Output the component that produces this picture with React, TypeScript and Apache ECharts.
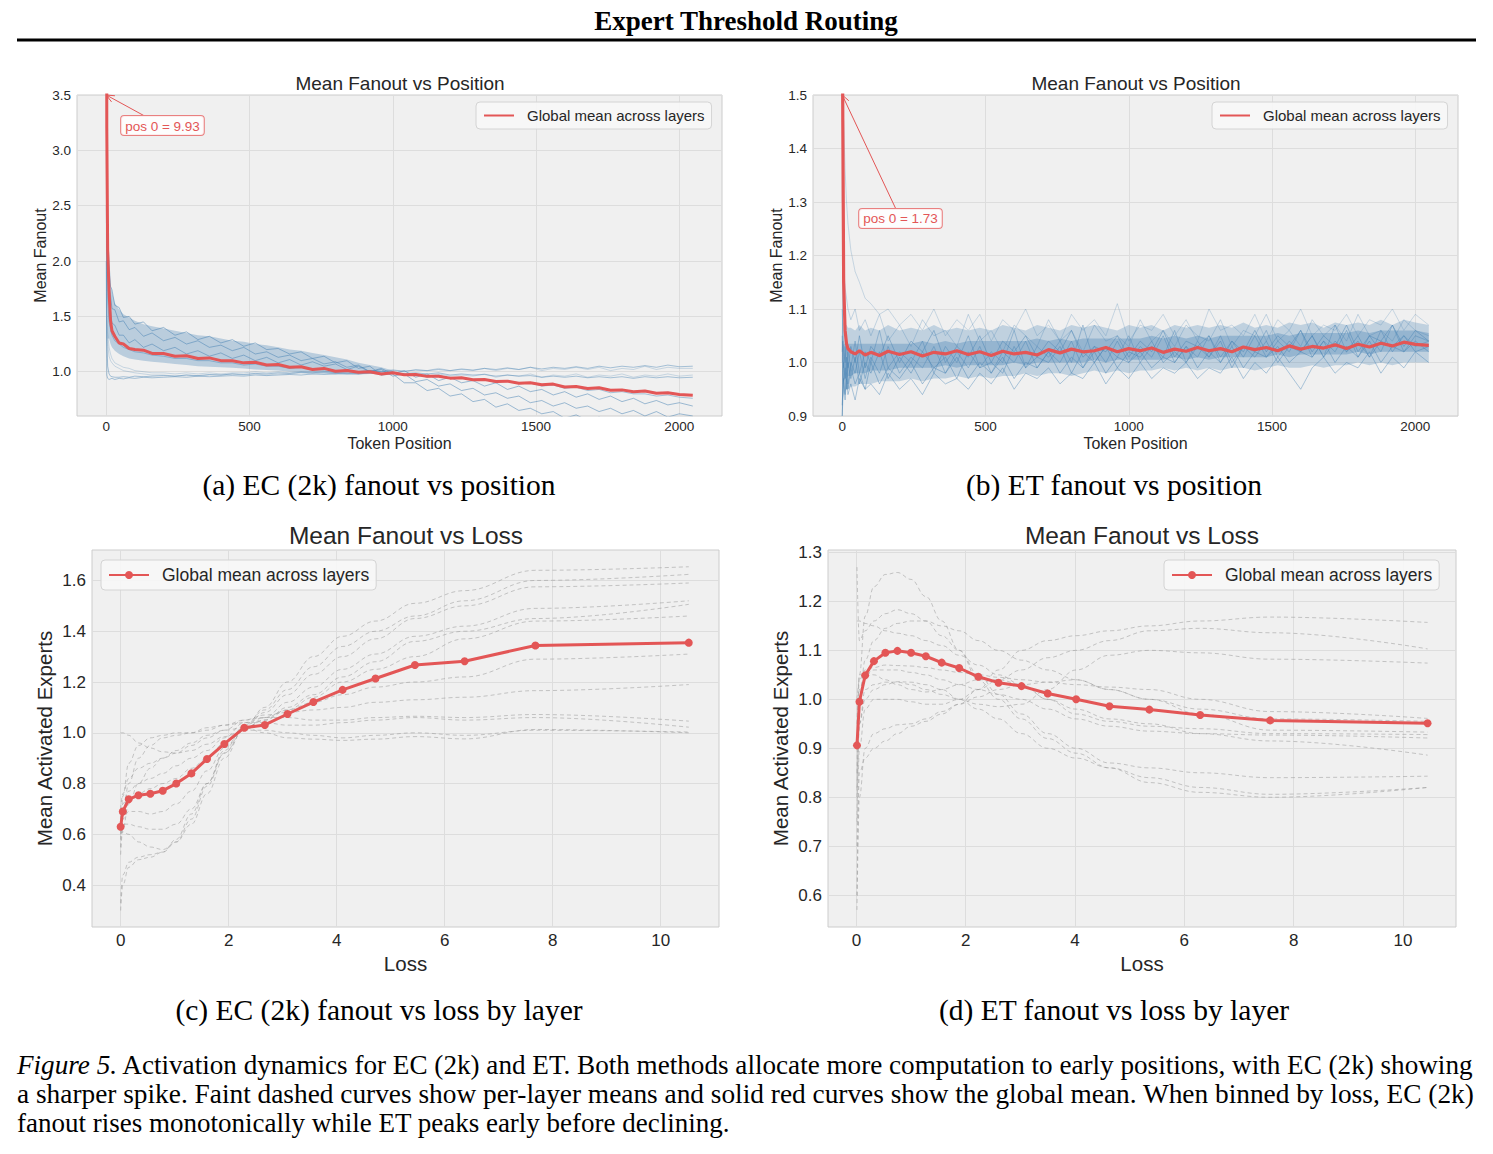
import React, { useEffect, useRef } from "react";
import * as echarts from "echarts";

// ---------------- DATA ----------------
// Token positions at which per-layer / global fanout was read off the figure
const POSITIONS = [0, 2, 5, 10, 15, 20, 30, 45, 60, 80, 100, 130, 160, 200, 240, 280, 320, 360, 400, 440, 480, 520, 560, 600, 640, 680, 720, 760, 800, 840, 880, 920, 960, 1000, 1040, 1080, 1120, 1160, 1200, 1240, 1280, 1320, 1360, 1400, 1440, 1480, 1520, 1560, 1600, 1640, 1680, 1720, 1760, 1800, 1840, 1880, 1920, 1960, 2000, 2047];

// (a) EC (2k): global mean fanout vs position
const EC_POS_GLOBAL = [9.93, 3.2, 2.1, 1.72, 1.46, 1.37, 1.32, 1.26, 1.25, 1.21, 1.2, 1.195, 1.165, 1.165, 1.14, 1.145, 1.12, 1.125, 1.1, 1.1, 1.08, 1.085, 1.06, 1.065, 1.04, 1.045, 1.02, 1.03, 1.005, 1.012, 0.995, 1.0, 0.98, 0.99, 0.972, 0.975, 0.958, 0.96, 0.942, 0.945, 0.928, 0.93, 0.912, 0.915, 0.895, 0.9, 0.882, 0.888, 0.862, 0.866, 0.848, 0.855, 0.832, 0.836, 0.82, 0.825, 0.805, 0.81, 0.795, 0.788];
// (a) EC (2k): per-layer fanout vs position
const EC_POS_L1 = [7.5, 3.4, 2.25, 1.98, 1.77, 1.74, 1.6, 1.58, 1.49, 1.5, 1.43, 1.45, 1.37, 1.4, 1.33, 1.36, 1.29, 1.32, 1.26, 1.29, 1.23, 1.26, 1.2, 1.21, 1.16, 1.18, 1.12, 1.14, 1.08, 1.1, 1.03, 1.05, 0.97, 0.98, 0.9, 0.9, 0.83, 0.85, 0.78, 0.8, 0.73, 0.75, 0.68, 0.71, 0.65, 0.67, 0.62, 0.64, 0.58, 0.61, 0.56, 0.59, 0.55, 0.57, 0.54, 0.56, 0.53, 0.55, 0.52, 0.53];
const EC_POS_L2 = [6.0, 3.0, 2.12, 1.77, 1.69, 1.57, 1.56, 1.45, 1.46, 1.38, 1.4, 1.32, 1.35, 1.28, 1.31, 1.25, 1.28, 1.22, 1.24, 1.19, 1.22, 1.16, 1.18, 1.13, 1.15, 1.1, 1.12, 1.07, 1.09, 1.04, 1.06, 1.0, 1.02, 0.96, 0.98, 0.91, 0.93, 0.87, 0.89, 0.83, 0.85, 0.79, 0.81, 0.76, 0.78, 0.72, 0.74, 0.69, 0.72, 0.67, 0.69, 0.64, 0.67, 0.62, 0.65, 0.6, 0.64, 0.59, 0.62, 0.6];
const EC_POS_L3 = [5.0, 2.6, 1.93, 1.62, 1.55, 1.44, 1.42, 1.33, 1.33, 1.26, 1.29, 1.22, 1.25, 1.19, 1.22, 1.16, 1.19, 1.14, 1.17, 1.12, 1.15, 1.1, 1.13, 1.08, 1.11, 1.06, 1.09, 1.05, 1.07, 1.02, 1.05, 1.0, 1.03, 0.98, 1.01, 0.95, 0.98, 0.92, 0.95, 0.9, 0.92, 0.87, 0.9, 0.84, 0.87, 0.82, 0.84, 0.79, 0.82, 0.77, 0.8, 0.75, 0.78, 0.73, 0.76, 0.71, 0.74, 0.7, 0.72, 0.69];
const EC_POS_L4 = [4.0, 2.2, 1.65, 1.45, 1.38, 1.33, 1.28, 1.25, 1.22, 1.2, 1.18, 1.17, 1.15, 1.14, 1.12, 1.12, 1.1, 1.1, 1.08, 1.08, 1.06, 1.07, 1.05, 1.05, 1.03, 1.04, 1.02, 1.03, 1.0, 1.02, 0.99, 1.01, 0.98, 1.0, 0.97, 0.98, 0.95, 0.97, 0.94, 0.95, 0.92, 0.93, 0.9, 0.92, 0.89, 0.9, 0.87, 0.88, 0.85, 0.86, 0.83, 0.84, 0.81, 0.82, 0.8, 0.8, 0.78, 0.79, 0.77, 0.76];
const EC_POS_L5 = [3.0, 1.6, 1.35, 1.22, 1.16, 1.12, 1.08, 1.06, 1.04, 1.03, 1.01, 1.0, 0.99, 0.99, 0.98, 0.99, 0.98, 0.99, 0.98, 0.99, 0.99, 1.0, 0.99, 1.0, 0.99, 1.0, 1.0, 1.01, 0.99, 1.01, 1.0, 1.01, 1.0, 1.02, 1.0, 1.02, 1.01, 1.03, 1.01, 1.02, 1.01, 1.03, 1.01, 1.03, 1.02, 1.04, 1.01, 1.03, 1.02, 1.04, 1.02, 1.04, 1.01, 1.03, 1.02, 1.05, 1.02, 1.04, 1.03, 1.03];
const EC_POS_L6 = [2.5, 1.45, 1.25, 1.14, 1.1, 1.08, 1.05, 1.03, 1.01, 1.0, 0.99, 0.98, 0.97, 0.97, 0.96, 0.97, 0.96, 0.97, 0.97, 0.98, 0.97, 0.98, 0.97, 0.98, 0.98, 0.99, 0.98, 0.99, 0.98, 1.0, 0.98, 0.99, 0.97, 0.99, 0.97, 0.98, 0.96, 0.98, 0.96, 0.97, 0.96, 0.98, 0.95, 0.97, 0.96, 0.98, 0.95, 0.97, 0.96, 0.98, 0.95, 0.97, 0.96, 0.98, 0.95, 0.97, 0.96, 0.98, 0.96, 0.97];
const EC_POS_L7 = [2.0, 0.97, 0.94, 0.93, 0.935, 0.94, 0.93, 0.94, 0.935, 0.945, 0.94, 0.95, 0.945, 0.95, 0.955, 0.95, 0.96, 0.955, 0.96, 0.965, 0.96, 0.97, 0.965, 0.97, 0.975, 0.97, 0.98, 0.975, 0.98, 0.985, 0.98, 0.99, 0.98, 0.99, 0.985, 0.99, 0.98, 0.99, 0.97, 0.98, 0.97, 0.975, 0.96, 0.97, 0.96, 0.965, 0.95, 0.96, 0.95, 0.96, 0.945, 0.955, 0.945, 0.955, 0.94, 0.955, 0.945, 0.955, 0.945, 0.95];
const EC_POS_L8 = [4.5, 1.3, 1.05, 0.98, 0.96, 0.955, 0.95, 0.95, 0.955, 0.95, 0.96, 0.955, 0.96, 0.965, 0.96, 0.97, 0.965, 0.975, 0.97, 0.98, 0.975, 0.985, 0.98, 0.99, 0.985, 0.995, 0.99, 1.0, 0.995, 1.0, 1.0, 1.01, 1.0, 1.01, 1.005, 1.015, 1.01, 1.02, 1.01, 1.025, 1.015, 1.03, 1.02, 1.035, 1.02, 1.04, 1.025, 1.04, 1.03, 1.045, 1.03, 1.05, 1.035, 1.05, 1.04, 1.055, 1.04, 1.06, 1.045, 1.05];
const EC_POS_LAYERS = [EC_POS_L1, EC_POS_L2, EC_POS_L3, EC_POS_L4, EC_POS_L5, EC_POS_L6, EC_POS_L7, EC_POS_L8];
// (a) dense early layer cloud (envelope), positions 5..1000
const EC_BAND_POS = [5, 10, 15, 20, 30, 45, 60, 80, 100, 130, 160, 200, 240, 280, 320, 360, 400, 440, 480, 520, 560, 600, 640, 680, 720, 760, 800, 840, 880, 920, 960, 1000];
const EC_BAND_LOW = [1.3, 1.3, 1.25, 1.22, 1.19, 1.16, 1.14, 1.12, 1.11, 1.1, 1.09, 1.08, 1.07, 1.06, 1.05, 1.045, 1.04, 1.035, 1.03, 1.02, 1.015, 1.01, 1.0, 0.995, 0.99, 0.985, 0.98, 0.97, 0.975, 0.98, 0.985, 0.99];
const EC_BAND_HIGH = [2.3, 1.95, 1.8, 1.72, 1.62, 1.56, 1.52, 1.49, 1.46, 1.43, 1.41, 1.39, 1.37, 1.35, 1.33, 1.32, 1.3, 1.28, 1.27, 1.25, 1.24, 1.22, 1.2, 1.19, 1.17, 1.15, 1.13, 1.11, 1.08, 1.06, 1.04, 1.01];

// (b) ET: global mean fanout vs position
const ET_POS_GLOBAL = [1.73, 1.45, 1.15, 1.06, 1.035, 1.026, 1.02, 1.016, 1.022, 1.014, 1.019, 1.013, 1.021, 1.015, 1.02, 1.012, 1.019, 1.016, 1.022, 1.015, 1.02, 1.013, 1.021, 1.016, 1.019, 1.014, 1.024, 1.018, 1.025, 1.02, 1.022, 1.028, 1.02, 1.026, 1.022, 1.027, 1.019, 1.025, 1.021, 1.028, 1.022, 1.026, 1.02, 1.029, 1.024, 1.028, 1.022, 1.031, 1.025, 1.03, 1.027, 1.033, 1.026, 1.034, 1.029, 1.036, 1.031, 1.038, 1.034, 1.032];
// (b) ET: per-layer fanout vs position
const ET_POS_L1 = [1.3, 1.48, 1.45, 1.36, 1.3, 1.26, 1.21, 1.17, 1.15, 1.12, 1.11, 1.09, 1.1, 1.07, 1.09, 1.06, 1.1, 1.05, 1.08, 1.06, 1.09, 1.04, 1.08, 1.06, 1.1, 1.05, 1.07, 1.04, 1.09, 1.06, 1.08, 1.05, 1.11, 1.04, 1.07, 1.06, 1.09, 1.05, 1.08, 1.04, 1.1, 1.06, 1.07, 1.05, 1.09, 1.04, 1.08, 1.06, 1.1, 1.05, 1.07, 1.06, 1.09, 1.05, 1.08, 1.07, 1.1, 1.06, 1.09, 1.07];
const ET_POS_L2 = [1.0, 1.2, 1.18, 1.14, 1.12, 1.1, 1.08, 1.1, 1.06, 1.08, 1.05, 1.09, 1.04, 1.07, 1.03, 1.08, 1.05, 1.06, 1.03, 1.09, 1.04, 1.06, 1.02, 1.07, 1.05, 1.03, 1.08, 1.04, 1.06, 1.02, 1.07, 1.04, 1.05, 1.03, 1.08, 1.04, 1.06, 1.03, 1.07, 1.05, 1.04, 1.08, 1.03, 1.06, 1.05, 1.09, 1.04, 1.06, 1.03, 1.08, 1.05, 1.07, 1.04, 1.09, 1.05, 1.06, 1.04, 1.08, 1.06, 1.05];
const ET_POS_L3 = [1.1, 1.06, 1.02, 1.0, 1.04, 0.99, 1.03, 1.0, 1.05, 0.99, 1.03, 1.01, 1.05, 1.0, 1.04, 1.02, 1.06, 1.0, 1.03, 1.01, 1.05, 1.0, 1.04, 1.02, 1.05, 1.01, 1.04, 1.02, 1.06, 1.01, 1.03, 1.02, 1.05, 1.01, 1.04, 1.02, 1.06, 1.01, 1.04, 1.03, 1.05, 1.01, 1.04, 1.02, 1.06, 1.02, 1.05, 1.03, 1.06, 1.02, 1.05, 1.03, 1.07, 1.02, 1.05, 1.04, 1.07, 1.03, 1.06, 1.04];
const ET_POS_L4 = [1.05, 0.98, 0.96, 0.99, 0.95, 1.0, 0.97, 1.01, 0.96, 1.0, 0.98, 1.02, 0.97, 1.01, 0.98, 1.02, 0.99, 1.01, 0.97, 1.02, 0.99, 1.0, 0.98, 1.03, 0.99, 1.01, 1.0, 1.03, 0.98, 1.02, 1.0, 1.03, 0.99, 1.02, 1.01, 1.04, 1.0, 1.02, 1.0, 1.03, 1.01, 1.04, 0.99, 1.03, 1.01, 1.04, 1.0, 1.03, 1.02, 1.05, 1.01, 1.04, 1.02, 1.05, 1.01, 1.04, 1.03, 1.05, 1.02, 1.03];
const ET_POS_L5 = [0.92, 0.95, 0.97, 0.94, 0.98, 0.95, 0.99, 0.96, 0.98, 0.95, 1.0, 0.96, 0.99, 0.97, 1.0, 0.96, 0.99, 0.98, 1.01, 0.97, 1.0, 0.98, 1.01, 0.97, 1.0, 0.99, 1.02, 0.98, 1.01, 0.99, 1.02, 0.98, 1.01, 1.0, 1.02, 0.99, 1.01, 1.0, 1.03, 0.99, 1.02, 1.0, 1.03, 0.99, 1.02, 1.01, 1.03, 1.0, 1.02, 1.01, 1.04, 1.0, 1.03, 1.01, 1.04, 1.0, 1.03, 1.02, 1.04, 1.02];
const ET_POS_L6 = [0.9, 0.93, 0.96, 0.93, 0.97, 0.94, 0.96, 0.93, 0.97, 0.95, 0.96, 0.94, 0.98, 0.95, 0.97, 0.94, 0.98, 0.96, 0.97, 0.95, 0.98, 0.96, 0.99, 0.95, 0.98, 0.97, 0.99, 0.96, 0.98, 0.97, 1.0, 0.96, 0.99, 0.97, 1.0, 0.97, 0.99, 0.98, 1.0, 0.97, 0.99, 0.98, 1.01, 0.97, 1.0, 0.98, 1.01, 0.98, 0.95, 0.99, 1.01, 0.98, 1.0, 0.99, 1.02, 0.98, 1.01, 0.99, 1.02, 1.0];
const ET_POS_L7 = [0.9, 0.97, 1.0, 0.97, 1.01, 0.96, 1.0, 0.98, 1.02, 0.97, 1.01, 0.98, 1.03, 0.98, 1.01, 0.99, 1.03, 0.98, 1.02, 0.99, 1.03, 0.98, 1.02, 1.0, 1.04, 0.99, 1.02, 1.0, 1.04, 0.99, 1.03, 1.0, 1.04, 1.0, 1.03, 1.01, 1.05, 1.0, 1.03, 1.01, 1.05, 1.0, 1.04, 1.01, 1.05, 1.01, 1.04, 1.02, 1.06, 1.01, 1.04, 1.02, 1.06, 1.01, 1.05, 1.02, 1.07, 1.02, 1.05, 1.04];
const ET_POS_L8 = [1.02, 1.04, 0.99, 1.03, 0.98, 1.02, 0.99, 1.04, 0.98, 1.02, 1.0, 1.06, 0.99, 1.02, 1.0, 1.04, 0.98, 1.03, 1.0, 1.05, 0.99, 1.02, 1.0, 1.06, 0.99, 1.03, 1.01, 1.04, 1.0, 1.07, 1.0, 1.03, 1.01, 1.05, 1.0, 1.03, 1.01, 1.06, 1.0, 1.04, 1.01, 1.05, 1.0, 1.03, 1.02, 1.06, 1.01, 1.04, 1.02, 1.05, 1.01, 1.07, 1.02, 1.04, 1.01, 1.06, 1.02, 1.05, 1.03, 1.04];
const ET_POS_LAYERS = [ET_POS_L1, ET_POS_L2, ET_POS_L3, ET_POS_L4, ET_POS_L5, ET_POS_L6, ET_POS_L7, ET_POS_L8];
// (b) layer cloud envelopes (outer and dense core)
const ET_BAND_LOW = [0.9, 0.93, 0.94, 0.945, 0.95, 0.95, 0.955, 0.955, 0.96, 0.96, 0.96, 0.965, 0.965, 0.965, 0.97, 0.965, 0.97, 0.97, 0.975, 0.97, 0.975, 0.97, 0.975, 0.975, 0.98, 0.975, 0.98, 0.98, 0.975, 0.98, 0.985, 0.98, 0.985, 0.98, 0.985, 0.985, 0.99, 0.985, 0.99, 0.985, 0.99, 0.985, 0.99, 0.99, 0.985, 0.99, 0.995, 0.99, 0.99, 0.995, 0.99, 0.995, 0.995, 1.0, 0.995, 1.0, 0.995, 1.0, 1.0, 1.0];
const ET_BAND_HIGH = [1.05, 1.08, 1.075, 1.07, 1.07, 1.065, 1.065, 1.06, 1.07, 1.06, 1.065, 1.06, 1.07, 1.06, 1.065, 1.06, 1.07, 1.06, 1.065, 1.06, 1.065, 1.06, 1.07, 1.065, 1.06, 1.07, 1.065, 1.06, 1.07, 1.065, 1.07, 1.065, 1.06, 1.07, 1.065, 1.07, 1.06, 1.07, 1.065, 1.07, 1.065, 1.07, 1.065, 1.075, 1.065, 1.07, 1.065, 1.075, 1.07, 1.075, 1.065, 1.075, 1.07, 1.075, 1.07, 1.08, 1.07, 1.08, 1.075, 1.07];
const ET_CORE_LOW = [0.95, 0.96, 0.965, 0.97, 0.97, 0.975, 0.975, 0.98, 0.98, 0.98, 0.985, 0.985, 0.985, 0.99, 0.99, 0.99, 0.99, 0.995, 0.99, 0.995, 0.995, 0.995, 0.995, 1.0, 0.995, 1.0, 1.0, 1.0, 1.0, 1.0, 1.005, 1.0, 1.005, 1.005, 1.005, 1.005, 1.005, 1.01, 1.005, 1.01, 1.005, 1.01, 1.01, 1.01, 1.01, 1.01, 1.015, 1.01, 1.015, 1.015, 1.015, 1.015, 1.015, 1.02, 1.015, 1.02, 1.02, 1.02, 1.02, 1.02];
const ET_CORE_HIGH = [1.0, 1.03, 1.035, 1.035, 1.035, 1.035, 1.035, 1.035, 1.035, 1.035, 1.035, 1.035, 1.035, 1.035, 1.035, 1.04, 1.035, 1.04, 1.035, 1.04, 1.04, 1.04, 1.04, 1.04, 1.04, 1.045, 1.04, 1.045, 1.04, 1.045, 1.045, 1.045, 1.045, 1.045, 1.045, 1.05, 1.045, 1.05, 1.045, 1.05, 1.045, 1.05, 1.05, 1.05, 1.05, 1.05, 1.055, 1.05, 1.055, 1.055, 1.055, 1.055, 1.055, 1.06, 1.055, 1.06, 1.06, 1.06, 1.06, 1.055];

// (c) EC (2k): fanout vs loss bins
const EC_LOSS = [0.0, 0.04, 0.15, 0.33, 0.55, 0.78, 1.03, 1.31, 1.6, 1.92, 2.29, 2.67, 3.09, 3.57, 4.11, 4.72, 5.45, 6.37, 7.68, 10.52];
const EC_LOSS_GLOBAL = [0.63, 0.69, 0.738, 0.754, 0.76, 0.772, 0.8, 0.84, 0.897, 0.956, 1.02, 1.031, 1.074, 1.121, 1.169, 1.214, 1.267, 1.282, 1.344, 1.355];
const EC_LOSS_L1 = [0.3, 0.4, 0.47, 0.5, 0.51, 0.53, 0.57, 0.64, 0.76, 0.9, 1.02, 1.1, 1.2, 1.3, 1.38, 1.44, 1.51, 1.56, 1.64, 1.654];
const EC_LOSS_L2 = [0.33, 0.44, 0.49, 0.51, 0.52, 0.53, 0.58, 0.68, 0.8, 0.93, 1.03, 1.09, 1.17, 1.26, 1.34, 1.4, 1.46, 1.52, 1.6, 1.624];
const EC_LOSS_L3 = [0.6, 0.61, 0.6, 0.57, 0.55, 0.54, 0.57, 0.66, 0.79, 0.92, 1.02, 1.08, 1.15, 1.23, 1.3, 1.37, 1.45, 1.5, 1.575, 1.59];
const EC_LOSS_L4 = [0.62, 0.64, 0.64, 0.63, 0.62, 0.62, 0.64, 0.7, 0.8, 0.92, 1.01, 1.06, 1.12, 1.18, 1.25, 1.31, 1.38, 1.42, 1.49, 1.52];
const EC_LOSS_L5 = [0.6, 0.66, 0.69, 0.69, 0.68, 0.69, 0.72, 0.77, 0.85, 0.94, 1.02, 1.05, 1.1, 1.15, 1.22, 1.28, 1.36, 1.4, 1.45, 1.506];
const EC_LOSS_L6 = [0.64, 0.7, 0.74, 0.76, 0.78, 0.8, 0.82, 0.86, 0.9, 0.96, 1.02, 1.05, 1.09, 1.14, 1.2, 1.25, 1.3, 1.37, 1.44, 1.46];
const EC_LOSS_L7 = [0.66, 0.72, 0.77, 0.8, 0.82, 0.84, 0.87, 0.9, 0.93, 0.98, 1.04, 1.06, 1.09, 1.12, 1.15, 1.18, 1.2, 1.22, 1.29, 1.31];
const EC_LOSS_L8 = [0.7, 0.76, 0.82, 0.86, 0.88, 0.9, 0.92, 0.95, 0.98, 1.01, 1.05, 1.07, 1.08, 1.09, 1.1, 1.12, 1.13, 1.14, 1.166, 1.19];
const EC_LOSS_L9 = [0.58, 0.75, 0.88, 0.95, 0.98, 0.99, 1.0, 1.0, 1.02, 1.03, 1.05, 1.06, 1.06, 1.05, 1.05, 1.06, 1.065, 1.06, 1.072, 1.046];
const EC_LOSS_L10 = [0.55, 0.68, 0.8, 0.9, 0.95, 0.98, 0.99, 1.0, 1.01, 1.03, 1.04, 1.04, 1.03, 1.03, 1.04, 1.05, 1.06, 1.05, 1.06, 1.022];
const EC_LOSS_L11 = [1.0, 1.0, 0.99, 0.96, 0.94, 0.925, 0.92, 0.93, 0.955, 0.985, 1.01, 1.01, 1.0, 0.99, 0.98, 0.99, 1.0, 0.99, 1.01, 1.003];
const EC_LOSS_L12 = [0.52, 0.62, 0.72, 0.8, 0.86, 0.9, 0.93, 0.96, 0.99, 1.01, 1.02, 1.0, 0.98, 0.975, 0.97, 0.975, 0.985, 0.976, 1.013, 1.0];
const EC_LOSS_LAYERS = [EC_LOSS_L1, EC_LOSS_L2, EC_LOSS_L3, EC_LOSS_L4, EC_LOSS_L5, EC_LOSS_L6, EC_LOSS_L7, EC_LOSS_L8, EC_LOSS_L9, EC_LOSS_L10, EC_LOSS_L11, EC_LOSS_L12];

// (d) ET: fanout vs loss bins
const ET_LOSS = [0.01, 0.055, 0.16, 0.32, 0.53, 0.75, 1.0, 1.27, 1.56, 1.88, 2.23, 2.6, 3.02, 3.5, 4.02, 4.63, 5.36, 6.29, 7.57, 10.45];
const ET_LOSS_GLOBAL = [0.906, 0.995, 1.049, 1.078, 1.095, 1.099, 1.095, 1.088, 1.075, 1.064, 1.046, 1.034, 1.027, 1.012, 1.0, 0.986, 0.979, 0.968, 0.957, 0.951];
const ET_LOSS_L1 = [0.85, 1.05, 1.17, 1.23, 1.255, 1.259, 1.245, 1.21, 1.16, 1.1, 1.04, 1.0, 0.96, 0.92, 0.89, 0.86, 0.83, 0.81, 0.8, 0.82];
const ET_LOSS_L2 = [1.27, 1.12, 1.14, 1.16, 1.175, 1.183, 1.175, 1.16, 1.13, 1.1, 1.05, 1.01, 0.97, 0.93, 0.9, 0.87, 0.86, 0.85, 0.84, 0.843];
const ET_LOSS_L3 = [1.16, 1.16, 1.155, 1.15, 1.14, 1.135, 1.13, 1.12, 1.11, 1.09, 1.07, 1.05, 1.03, 1.0, 0.98, 0.96, 0.95, 0.93, 0.915, 0.886];
const ET_LOSS_L4 = [0.8, 1.0, 1.08, 1.12, 1.145, 1.155, 1.16, 1.16, 1.15, 1.14, 1.12, 1.1, 1.08, 1.06, 1.04, 1.02, 1.0, 0.97, 0.937, 0.933];
const ET_LOSS_L5 = [0.6, 0.85, 0.88, 0.9, 0.915, 0.93, 0.945, 0.955, 0.97, 0.99, 1.02, 1.06, 1.1, 1.12, 1.13, 1.14, 1.15, 1.16, 1.168, 1.157];
const ET_LOSS_L6 = [0.7, 0.9, 0.98, 1.0, 1.0, 1.0, 0.995, 0.99, 0.99, 1.0, 1.02, 1.04, 1.06, 1.085, 1.1, 1.12, 1.14, 1.145, 1.136, 1.103];
const ET_LOSS_L7 = [0.75, 0.95, 1.02, 1.03, 1.035, 1.035, 1.03, 1.02, 1.01, 1.0, 0.99, 0.985, 0.99, 1.02, 1.06, 1.09, 1.1, 1.095, 1.082, 1.074];
const ET_LOSS_L8 = [1.0, 1.04, 1.06, 1.065, 1.07, 1.069, 1.068, 1.065, 1.06, 1.055, 1.05, 1.045, 1.04, 1.035, 1.03, 1.025, 1.02, 1.0, 0.975, 0.961];
const ET_LOSS_L9 = [0.9, 1.02, 1.05, 1.06, 1.06, 1.06, 1.055, 1.05, 1.04, 1.03, 1.02, 1.01, 1.0, 0.98, 0.96, 0.945, 0.935, 0.93, 0.927, 0.921];
const ET_LOSS_L10 = [0.82, 0.95, 1.0, 1.02, 1.03, 1.036, 1.035, 1.03, 1.02, 1.0, 0.98, 0.96, 0.93, 0.9, 0.88, 0.86, 0.84, 0.82, 0.806, 0.82];
const ET_LOSS_L11 = [0.95, 1.05, 1.055, 1.05, 1.04, 1.03, 1.02, 1.015, 1.02, 1.03, 1.04, 1.04, 1.03, 1.0, 0.97, 0.955, 0.945, 0.94, 0.93, 0.928];
const ET_LOSS_L12 = [0.57, 0.8, 0.9, 0.93, 0.94, 0.948, 0.95, 0.96, 0.975, 0.99, 1.005, 1.02, 1.03, 1.035, 1.04, 1.02, 1.0, 0.98, 0.96, 0.955];
const ET_LOSS_LAYERS = [ET_LOSS_L1, ET_LOSS_L2, ET_LOSS_L3, ET_LOSS_L4, ET_LOSS_L5, ET_LOSS_L6, ET_LOSS_L7, ET_LOSS_L8, ET_LOSS_L9, ET_LOSS_L10, ET_LOSS_L11, ET_LOSS_L12];

// Tick labels
const POS_TICKS = [0, 500, 1000, 1500, 2000];
const EC_POS_YTICKS = [1.0, 1.5, 2.0, 2.5, 3.0, 3.5];
const LOSS_TICKS = [0, 2, 4, 6, 8, 10];
const EC_LOSS_YTICKS = [0.4, 0.6, 0.8, 1.0, 1.2, 1.4, 1.6];
const ET_LOSS_YTICKS = [0.6, 0.7, 0.8, 0.9, 1.0, 1.1, 1.2, 1.3];

// Annotation values
const EC_POS0 = 9.93;
const ET_POS0 = 1.73;

// ---------------- STYLE ----------------
const SANS = '"Liberation Sans", Arial, Helvetica, sans-serif';
const SERIF = '"Liberation Serif", "Times New Roman", serif';
const RED = "#e35656";
const TXT = "#262626";
const BLUE = "rgb(70,130,180)";
const EC_LAYER_OPACITY = [0.5, 0.5, 0.5, 0.45, 0.25, 0.25, 0.45, 0.45];
const ET_LAYER_OPACITY = [0.25, 0.28, 0.45, 0.45, 0.45, 0.42, 0.42, 0.4];

const fmt1 = (v: number) => v.toFixed(1);

function xAxisCfg(gridIndex: number, min: number, max: number, ticks: number[], name: string, fs: number, nameFs: number, nameGap: number, margin: number) {
  return {
    type: "value", gridIndex, min, max, name, nameLocation: "middle", nameGap,
    nameTextStyle: { fontSize: nameFs, color: TXT, fontFamily: SANS },
    axisLine: { show: false },
    axisTick: { show: false, customValues: ticks },
    axisLabel: { customValues: ticks, fontSize: fs, color: TXT, fontFamily: SANS, margin, formatter: (v: number) => String(v) },
    splitLine: { show: true, lineStyle: { color: "#dddddd", width: 1 } },
  };
}
function yAxisCfg(gridIndex: number, min: number, max: number, ticks: number[] | null, interval: number | null, name: string, fs: number, nameFs: number, nameGap: number) {
  const a: any = {
    type: "value", gridIndex, min, max, name, nameLocation: "middle", nameGap,
    nameTextStyle: { fontSize: nameFs, color: TXT, fontFamily: SANS },
    axisLine: { show: false },
    axisTick: { show: false },
    axisLabel: { fontSize: fs, color: TXT, fontFamily: SANS, margin: 6, formatter: fmt1 },
    splitLine: { show: true, lineStyle: { color: "#dddddd", width: 1 } },
  };
  if (ticks) { a.axisTick.customValues = ticks; a.axisLabel.customValues = ticks; }
  if (interval) a.interval = interval;
  return a;
}
function legendCfg(name: string, left: number, top: number, fs: number, itemWidth: number, hideSymbol: boolean) {
  const l: any = {
    data: [name], left, top, orient: "horizontal", selectedMode: false,
    formatter: () => "Global mean across layers",
    itemWidth, itemHeight: 10, padding: [6, 7, 6, 7],
    backgroundColor: "rgba(247,247,247,0.9)", borderColor: "#d4d4d4", borderWidth: 1, borderRadius: 4,
    textStyle: { fontSize: fs, color: TXT, fontFamily: SANS, padding: [0, 0, 0, 8] },
  };
  if (hideSymbol) l.itemStyle = { opacity: 0, borderWidth: 0 };
  return l;
}

// Filled band between two envelope curves, drawn through the axes' own scales
function bandSeries(id: string, axis: number, xs: number[], low: number[], high: number[], opacity: number) {
  return {
    type: "custom", name: id, xAxisIndex: axis, yAxisIndex: axis, silent: true, z: 1,
    data: xs.map((x, j) => [x, low[j], high[j]]),
    encode: { x: 0, y: [1, 2] },
    renderItem: (params: any, api: any) => {
      if (params.dataIndex !== 0) return null;
      const upper = xs.map((x, j) => api.coord([x, high[j]]));
      const lower = xs.map((x, j) => api.coord([x, low[j]])).reverse();
      return { type: "polygon", shape: { points: upper.concat(lower) }, style: { fill: BLUE, opacity } };
    },
  };
}

function buildOption() {
  const series: any[] = [];
  series.push(bandSeries("ecBand", 0, EC_BAND_POS, EC_BAND_LOW, EC_BAND_HIGH, 0.32));
  EC_POS_LAYERS.forEach((layer, i) => series.push({
    type: "line", name: "ec-pos-layer-" + i, xAxisIndex: 0, yAxisIndex: 0, silent: true, symbol: "none", z: 2,
    data: POSITIONS.map((p, j) => [p, layer[j]]),
    lineStyle: { color: BLUE, width: 1, opacity: EC_LAYER_OPACITY[i] },
  }));
  series.push({
    type: "line", name: "ecPosMean", xAxisIndex: 0, yAxisIndex: 0, silent: true, symbol: "none", z: 5,
    data: POSITIONS.map((p, j) => [p, EC_POS_GLOBAL[j]]),
    lineStyle: { color: RED, width: 3 }, itemStyle: { color: RED },
  });
  series.push(bandSeries("etBand", 1, POSITIONS, ET_BAND_LOW, ET_BAND_HIGH, 0.28));
  series.push(bandSeries("etCore", 1, POSITIONS, ET_CORE_LOW, ET_CORE_HIGH, 0.35));
  ET_POS_LAYERS.forEach((layer, i) => series.push({
    type: "line", name: "et-pos-layer-" + i, xAxisIndex: 1, yAxisIndex: 1, silent: true, symbol: "none", z: 2,
    data: POSITIONS.map((p, j) => [p, layer[j]]),
    lineStyle: { color: BLUE, width: 1, opacity: ET_LAYER_OPACITY[i] },
  }));
  series.push({
    type: "line", name: "etPosMean", xAxisIndex: 1, yAxisIndex: 1, silent: true, symbol: "none", z: 5,
    data: POSITIONS.map((p, j) => [p, ET_POS_GLOBAL[j]]),
    lineStyle: { color: RED, width: 3.2 }, itemStyle: { color: RED },
  });
  EC_LOSS_LAYERS.forEach((layer, i) => series.push({
    type: "line", name: "ec-loss-layer-" + i, xAxisIndex: 2, yAxisIndex: 2, silent: true, symbol: "none", z: 2,
    smooth: 0.4, smoothMonotone: "x",
    data: EC_LOSS.map((x, j) => [x, layer[j]]),
    lineStyle: { color: "rgba(150,150,150,0.5)", width: 1, type: [4, 3] },
  }));
  series.push({
    type: "line", name: "ecLossMean", xAxisIndex: 2, yAxisIndex: 2, silent: true, symbol: "circle", symbolSize: 8, z: 5,
    data: EC_LOSS.map((x, j) => [x, EC_LOSS_GLOBAL[j]]),
    lineStyle: { color: RED, width: 3 }, itemStyle: { color: RED },
  });
  ET_LOSS_LAYERS.forEach((layer, i) => series.push({
    type: "line", name: "et-loss-layer-" + i, xAxisIndex: 3, yAxisIndex: 3, silent: true, symbol: "none", z: 2,
    smooth: 0.4, smoothMonotone: "x",
    data: ET_LOSS.map((x, j) => [x, layer[j]]),
    lineStyle: { color: "rgba(150,150,150,0.5)", width: 1, type: [4, 3] },
  }));
  series.push({
    type: "line", name: "etLossMean", xAxisIndex: 3, yAxisIndex: 3, silent: true, symbol: "circle", symbolSize: 8, z: 5,
    data: ET_LOSS.map((x, j) => [x, ET_LOSS_GLOBAL[j]]),
    lineStyle: { color: RED, width: 3 }, itemStyle: { color: RED },
  });

  const gridBase = { show: true, backgroundColor: "#f0f0f0", borderColor: "#cccccc", borderWidth: 1, containLabel: false };
  return {
    animation: false,
    backgroundColor: "#ffffff",
    grid: [
      { ...gridBase, left: 77, top: 95, width: 645, height: 321 },
      { ...gridBase, left: 813, top: 95, width: 645, height: 321 },
      { ...gridBase, left: 92, top: 550, width: 627, height: 377 },
      { ...gridBase, left: 828, top: 550, width: 628, height: 377 },
    ],
    xAxis: [
      xAxisCfg(0, -102, 2149, POS_TICKS, "Token Position", 13.5, 16, 19, 3),
      xAxisCfg(1, -102, 2149, POS_TICKS, "Token Position", 13.5, 16, 19, 3),
      xAxisCfg(2, -0.53, 11.08, LOSS_TICKS, "Loss", 17, 20.5, 26, 5),
      xAxisCfg(3, -0.52, 10.97, LOSS_TICKS, "Loss", 17, 20.5, 26, 5),
    ],
    yAxis: [
      yAxisCfg(0, 0.6, 3.5, EC_POS_YTICKS, null, "Mean Fanout", 13.5, 16, 28),
      yAxisCfg(1, 0.9, 1.5, null, 0.1, "Mean Fanout", 13.5, 16, 28),
      yAxisCfg(2, 0.235, 1.72, EC_LOSS_YTICKS, null, "Mean Activated Experts", 17, 20.5, 37),
      yAxisCfg(3, 0.535, 1.305, ET_LOSS_YTICKS, null, "Mean Activated Experts", 17, 20.5, 37),
    ],
    legend: [
      legendCfg("ecPosMean", 476, 102, 15, 30, true),
      legendCfg("etPosMean", 1212, 102, 15, 30, true),
      legendCfg("ecLossMean", 101, 560, 17.5, 40, false),
      legendCfg("etLossMean", 1164, 560, 17.5, 40, false),
    ],
    series,
  };
}

function textEl(x: number, y: number, text: string, size: number, family: string, extra: any = {}) {
  return {
    type: "text", x, y, z: 100, silent: true,
    style: { text, fontSize: size, fontFamily: family, fill: extra.fill || "#000", fontWeight: extra.weight || "normal",
      fontStyle: extra.italic ? "italic" : "normal", align: extra.align || "center", verticalAlign: "middle",
      textAlign: extra.align || "center", textVerticalAlign: "middle", rich: extra.rich },
  };
}

function arrowEls(tail: number[], tip: number[], color: string) {
  const dx = tip[0] - tail[0], dy = tip[1] - tail[1];
  const len = Math.hypot(dx, dy);
  const ux = dx / len, uy = dy / len;
  const hl = 8, hw = 3.5;
  const bx = tip[0] - ux * hl, by = tip[1] - uy * hl;
  const px = -uy, py = ux;
  return [
    { type: "line", z: 100, silent: true, shape: { x1: tail[0], y1: tail[1], x2: tip[0], y2: tip[1] }, style: { stroke: color, lineWidth: 1 } },
    { type: "polyline", z: 100, silent: true, shape: { points: [[bx + px * hw, by + py * hw], [tip[0], tip[1]], [bx - px * hw, by - py * hw]] }, style: { stroke: color, lineWidth: 1, fill: null } },
  ];
}

export default function App() {
  const ref = useRef<HTMLDivElement>(null);
  useEffect(() => {
    if (!ref.current) return;
    const chart = echarts.init(ref.current, null, { renderer: "svg" });
    chart.setOption(buildOption());

    const ctx = document.createElement("canvas").getContext("2d")!;
    const measure = (t: string, font: string) => { ctx.font = font; return ctx.measureText(t).width; };

    // annotations
    const annFs = 13.5;
    const annotation = (gridIndex: number, tipData: number[], boxData: number[], label: string) => {
      const tip = chart.convertToPixel({ gridIndex } as any, tipData) as number[];
      const box = chart.convertToPixel({ gridIndex } as any, boxData) as number[];
      const w = measure(label, `${annFs}px ${SANS}`) + 8;
      const h = annFs + 6;
      const cx = box[0] + w / 2, cy = box[1] + h / 2;
      const ddx = tip[0] - cx, ddy = tip[1] - cy;
      const t = Math.min(Math.abs((w / 2) / (ddx || 1e-6)), Math.abs((h / 2) / (ddy || 1e-6)));
      const tail = [cx + ddx * t, cy + ddy * t];
      return [
        ...arrowEls(tail, tip, RED),
        { type: "text", x: box[0], y: box[1], z: 101, silent: true,
          style: { text: label, fontSize: annFs, fontFamily: SANS, fill: RED, padding: [3, 4, 2, 4],
            backgroundColor: "rgba(255,255,255,0.85)", borderColor: "#e98080", borderWidth: 1, borderRadius: 3 } },
      ];
    };

    // figure caption fit
    const capFs = 27;
    const L1a = "Figure 5.";
    const L1b = " Activation dynamics for EC (2k) and ET. Both methods allocate more computation to early positions, with EC (2k) showing";
    const L2 = "a sharper spike. Faint dashed curves show per-layer means and solid red curves show the global mean. When binned by loss, EC (2k)";
    const L3 = "fanout rises monotonically while ET peaks early before declining.";
    const target = 1458;
    const w1 = measure(L1a, `italic ${capFs}px ${SERIF}`) + measure(L1b, `${capFs}px ${SERIF}`);
    const w2 = measure(L2, `${capFs}px ${SERIF}`);
    const clamp = (v: number) => Math.max(24, Math.min(30, v));
    const fs1 = clamp(capFs * target / w1);
    const fs2 = clamp(capFs * target / w2);

    const graphics: any[] = [
      textEl(746, 21, "Expert Threshold Routing", 27, SERIF, { weight: "bold" }),
      { type: "rect", z: 100, silent: true, shape: { x: 17, y: 38.5, width: 1459, height: 3 }, style: { fill: "#000" } },
      textEl(400, 83, "Mean Fanout vs Position", 19, SANS, { fill: TXT }),
      textEl(1136, 83, "Mean Fanout vs Position", 19, SANS, { fill: TXT }),
      textEl(406, 535, "Mean Fanout vs Loss", 24.5, SANS, { fill: TXT }),
      textEl(1142, 535, "Mean Fanout vs Loss", 24.5, SANS, { fill: TXT }),
      textEl(379, 485, "(a) EC (2k) fanout vs position", 29.5, SERIF),
      textEl(1114, 485, "(b) ET fanout vs position", 29.5, SERIF),
      textEl(379, 1010, "(c) EC (2k) fanout vs loss by layer", 29.5, SERIF),
      textEl(1114, 1010, "(d) ET fanout vs loss by layer", 29.5, SERIF),
      textEl(17, 1065, "{i|" + L1a + "}" + L1b, fs1, SERIF, { align: "left", rich: { i: { fontStyle: "italic", fontSize: fs1, fontFamily: SERIF, fill: "#000" } } }),
      textEl(17, 1094, L2, fs2, SERIF, { align: "left" }),
      textEl(17, 1123, L3, capFs, SERIF, { align: "left" }),
      ...annotation(0, [0, 3.5], [52, 3.31], `pos 0 = ${EC_POS0.toFixed(2)}`),
      ...annotation(1, [0, 1.5], [59, 1.287], `pos 0 = ${ET_POS0.toFixed(2)}`),
    ];
    chart.setOption({ graphic: graphics });
    return () => chart.dispose();
  }, []);
  return <div ref={ref} style={{ position: "absolute", left: 0, top: 0, width: 1493, height: 1154, background: "#fff" }} />;
}
